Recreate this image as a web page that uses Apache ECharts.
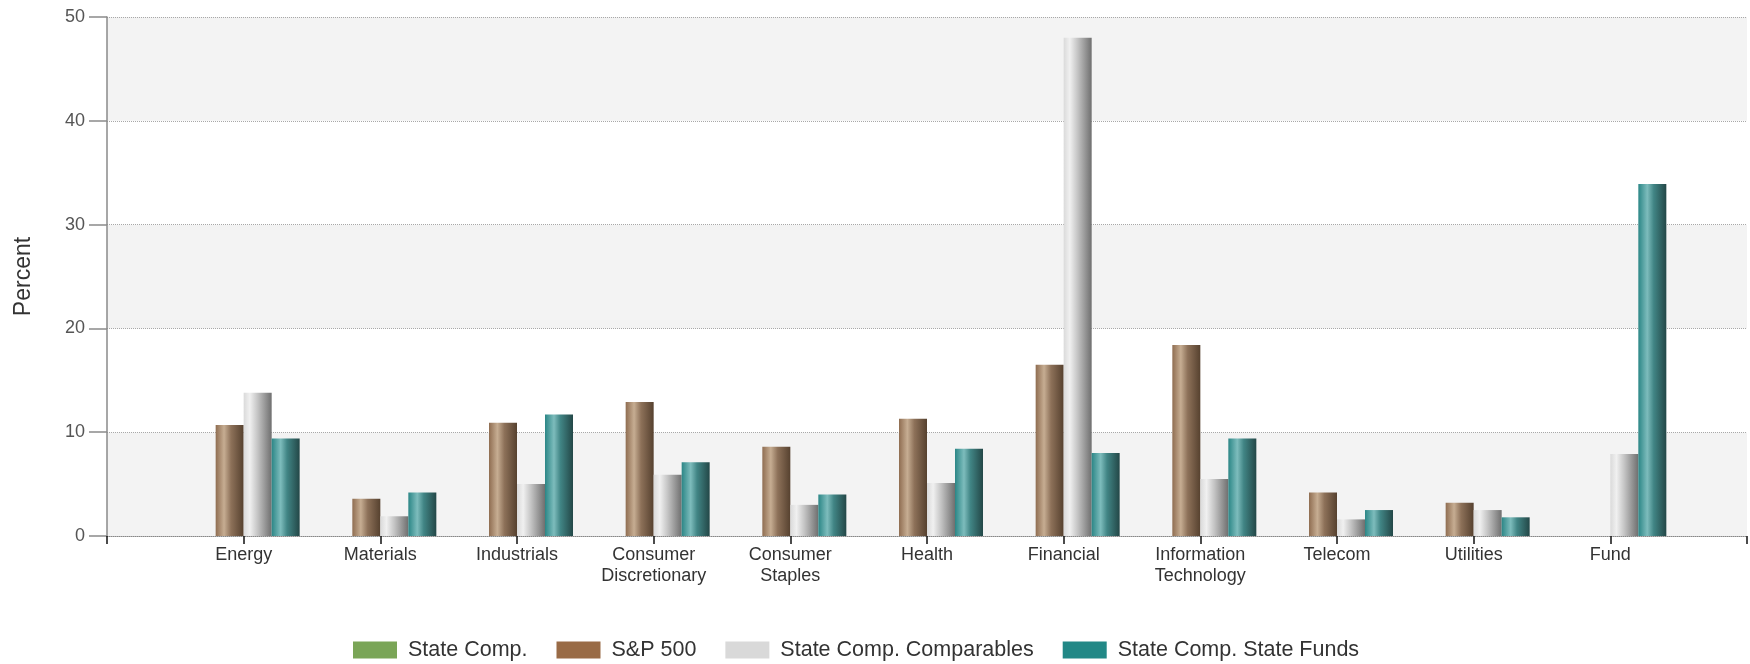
<!DOCTYPE html>
<html>
<head>
<meta charset="utf-8">
<script src="https://cdn.jsdelivr.net/npm/echarts@6/dist/echarts.min.js"></script>
<style>
html,body{margin:0;padding:0;background:#fff;}
#chart{width:1750px;height:664px;}
</style>
</head>
<body>
<div id="chart"></div>
<script>
const categories = ['Energy', 'Materials', 'Industrials', 'Consumer\nDiscretionary', 'Consumer\nStaples', 'Health', 'Financial', 'Information\nTechnology', 'Telecom', 'Utilities', 'Fund'];
const stateComp = [null, null, null, null, null, null, null, null, null, null, null];
const sp500 = [10.7, 3.6, 10.9, 12.9, 8.6, 11.3, 16.5, 18.4, 4.2, 3.2, null];
const comparables = [13.8, 1.9, 5.0, 5.9, 3.0, 5.1, 48.0, 5.5, 1.6, 2.5, 7.9];
const stateFunds = [9.4, 4.2, 11.7, 7.1, 4.0, 8.4, 8.0, 9.4, 2.5, 1.8, 33.9];
const yTicks = [0, 10, 20, 30, 40, 50];

const pad = arr => [null].concat(arr, [null]);
const axisCats = [''].concat(categories, ['']);

function grad(stops) {
  return new echarts.graphic.LinearGradient(0, 0, 1, 0, stops.map(s => ({offset: s[0], color: s[1]})));
}
const brownGrad = grad([[0, '#8f6d51'], [0.3, '#c6ad92'], [0.55, '#8d7159'], [1, '#56412f']]);
const grayGrad = grad([[0, '#dadada'], [0.22, '#f0f0f0'], [0.5, '#c4c4c4'], [1, '#6f6f6f']]);
const tealGrad = grad([[0, '#2b8686'], [0.32, '#7dbcbc'], [0.55, '#418585'], [1, '#234747']]);
const greenGrad = grad([[0, '#6f9a4d'], [0.3, '#a6c88a'], [1, '#3f5a2b']]);

const chart = echarts.init(document.getElementById('chart'), null, {renderer: 'canvas'});
const font = 'Liberation Sans, Arial, sans-serif';

chart.setOption({
  animation: false,
  backgroundColor: '#ffffff',
  textStyle: {fontFamily: font},
  grid: {left: 107, right: 2, top: 17, bottom: 128, containLabel: false},
  legend: {
    left: 348,
    top: 634,
    itemWidth: 44,
    itemHeight: 17,
    itemGap: 29,
    icon: 'rect',
    textStyle: {fontFamily: font, fontSize: 21.5, color: '#333', padding: [0, 0, 0, 6]},
    data: [
      {name: 'State Comp.', itemStyle: {color: '#7aa557'}},
      {name: 'S&P 500', itemStyle: {color: '#996b46'}},
      {name: 'State Comp. Comparables', itemStyle: {color: '#d9d9d9'}},
      {name: 'State Comp. State Funds', itemStyle: {color: '#228886'}}
    ]
  },
  xAxis: {
    type: 'category',
    data: axisCats,
    boundaryGap: false,
    axisLine: {show: true, lineStyle: {color: '#888', type: 'dotted', width: 1}},
    axisTick: {show: true, length: 8, lineStyle: {color: '#111', width: 1.5}},
    axisLabel: {interval: 0, margin: 9, fontFamily: font, fontSize: 18, color: '#333', lineHeight: 21},
    splitLine: {show: false}
  },
  yAxis: {
    type: 'value',
    min: yTicks[0],
    max: yTicks[yTicks.length - 1],
    interval: 10,
    name: 'Percent',
    nameLocation: 'middle',
    nameGap: 72,
    nameRotate: 90,
    nameTextStyle: {fontFamily: font, fontSize: 23, color: '#333'},
    axisLine: {show: true, lineStyle: {color: '#8a8a8a', width: 1.5}},
    axisTick: {show: true, length: 18, lineStyle: {color: '#8a8a8a', width: 1.5}},
    axisLabel: {margin: 22, fontFamily: font, fontSize: 18, color: '#555'},
    splitLine: {show: true, lineStyle: {color: '#a8a8a8', type: 'dotted', width: 1}},
    splitArea: {show: true, areaStyle: {color: ['#f3f3f3', '#ffffff']}}
  },
  series: [
    {name: 'State Comp.', type: 'bar', data: pad(stateComp), barWidth: 28, barGap: '0%', itemStyle: {color: greenGrad}},
    {name: 'S&P 500', type: 'bar', data: pad(sp500), barWidth: 28, barGap: '0%', itemStyle: {color: brownGrad}},
    {name: 'State Comp. Comparables', type: 'bar', data: pad(comparables), barWidth: 28, barGap: '0%', itemStyle: {color: grayGrad}},
    {name: 'State Comp. State Funds', type: 'bar', data: pad(stateFunds), barWidth: 28, barGap: '0%', itemStyle: {color: tealGrad}}
  ]
});
</script>
</body>
</html>
